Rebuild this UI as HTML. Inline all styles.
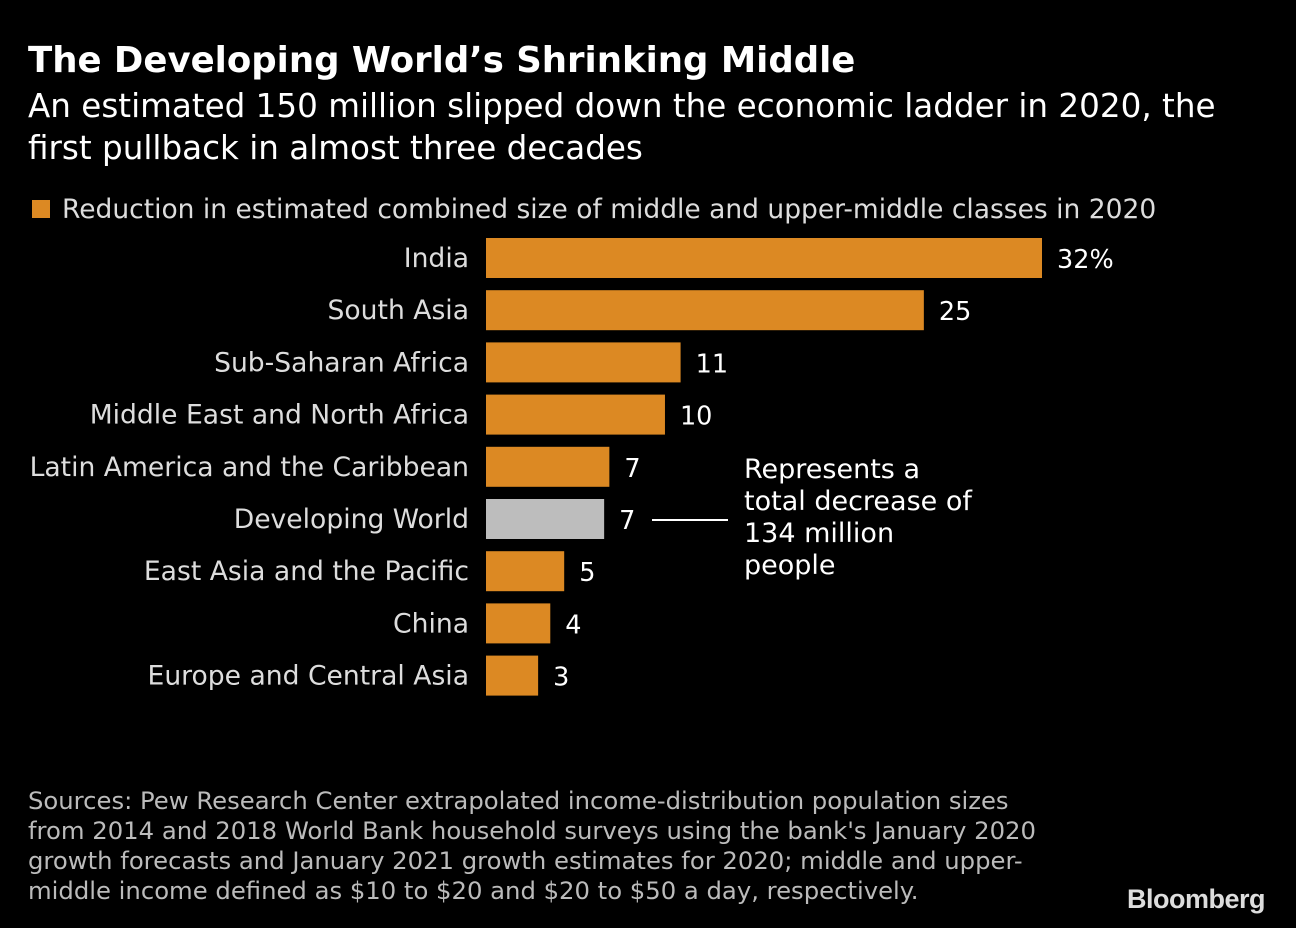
<!DOCTYPE html>
<html><head><meta charset="utf-8"><style>
body{margin:0;background:#000;width:1296px;height:928px;overflow:hidden;font-family:"DejaVu Sans","Liberation Sans",sans-serif;color:#fff}
.t{position:absolute;white-space:nowrap}
</style></head><body>
<div class="t" style="left:28px;top:40px;font-size:35.5px;font-weight:bold;">The Developing World’s Shrinking Middle</div>
<div class="t" style="left:28px;top:85px;font-size:32.6px;line-height:42px;">An estimated 150 million slipped down the economic ladder in 2020, the<br>first pullback in almost three decades</div>
<div class="t" style="left:32px;top:194px;font-size:26.5px;color:#ddd;"><span style="display:inline-block;width:18px;height:18px;background:#dc8923;margin-right:12px;"></span>Reduction in estimated combined size of middle and upper-middle classes in 2020</div>
<svg id="chart" width="1296" height="928" style="position:absolute;left:0;top:0"></svg>
<div class="t" style="left:744px;top:454px;font-size:27px;line-height:32px;">Represents a<br>total decrease of<br>134 million<br>people</div>
<div class="t" style="left:28px;top:786px;font-size:24.3px;line-height:30px;color:#bbb;">Sources: Pew Research Center extrapolated income-distribution population sizes<br>from 2014 and 2018 World Bank household surveys using the bank's January 2020<br>growth forecasts and January 2021 growth estimates for 2020; middle and upper-<br>middle income defined as $10 to $20 and $20 to $50 a day, respectively.</div>
<div class="t" style="left:1127px;top:884px;font-size:27px;font-weight:bold;font-family:'Liberation Sans',sans-serif;color:#ddd;letter-spacing:-0.5px;">Bloomberg</div>
<script>
const categories=["India","South Asia","Sub-Saharan Africa","Middle East and North Africa","Latin America and the Caribbean","Developing World","East Asia and the Pacific","China","Europe and Central Asia"];
const values=[32,25.2,11.2,10.3,7.1,6.8,4.5,3.7,3.0];
const valueLabels=["32%","25","11","10","7","7","5","4","3"];
const highlight=["Developing World"];
const svg=document.getElementById('chart');
const NS='http://www.w3.org/2000/svg';
const x0=486, pxPerUnit=556/32, top0=238, pitch=52.2, bh=40;
const xs=v=>x0+v*pxPerUnit;
categories.forEach((c,i)=>{
  const y=top0+i*pitch;
  const r=document.createElementNS(NS,'rect');
  r.setAttribute('x',x0);r.setAttribute('y',y);r.setAttribute('width',xs(values[i])-x0);r.setAttribute('height',bh);
  r.setAttribute('fill',highlight.includes(c)?'#bdbdbd':'#dc8923');
  
  
  svg.appendChild(r);
  const l=document.createElementNS(NS,'text');
  l.setAttribute('x',469);l.setAttribute('y',y+29);l.setAttribute('text-anchor','end');
  l.setAttribute('fill','#ddd');l.setAttribute('font-size','26.6');l.setAttribute('font-family','DejaVu Sans, sans-serif');
  l.textContent=c;
  
  
  svg.appendChild(l);
  const v=document.createElementNS(NS,'text');
  v.setAttribute('x',xs(values[i])+15);v.setAttribute('y',y+30);
  v.setAttribute('fill','#fff');v.setAttribute('font-size','25.5');v.setAttribute('font-family','DejaVu Sans, sans-serif');
  v.textContent=valueLabels[i];
  
  
  svg.appendChild(v);
  if(highlight.includes(c)){
    const ln=document.createElementNS(NS,'line');
    ln.setAttribute('x1',652);ln.setAttribute('x2',728);ln.setAttribute('y1',y+21);ln.setAttribute('y2',y+21);
    ln.setAttribute('stroke','#fff');ln.setAttribute('stroke-width','2');
    
    
    svg.appendChild(ln);
  }
});
</script>
</body></html>
